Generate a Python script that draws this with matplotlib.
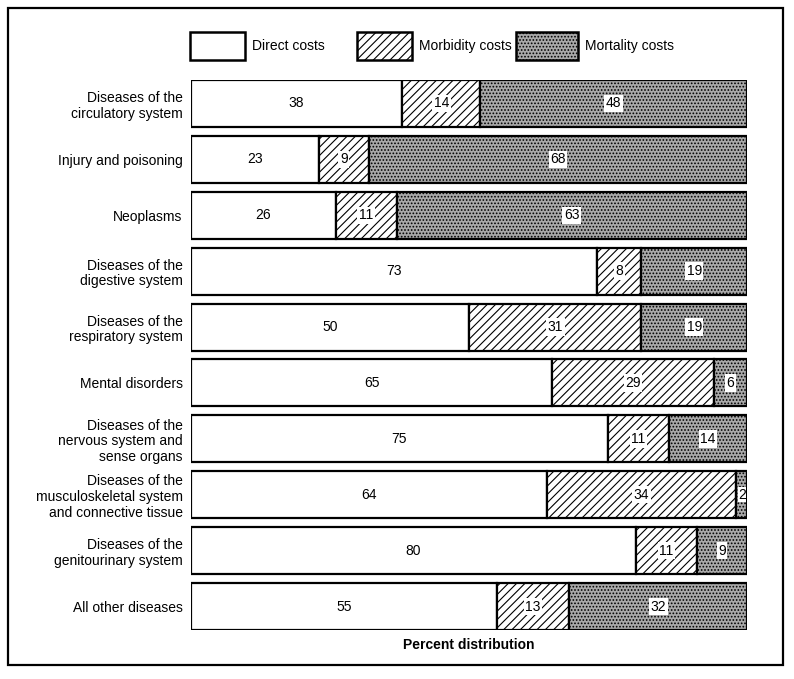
import matplotlib
matplotlib.use('Agg')
import numpy as np
import matplotlib.pyplot as plt
from matplotlib.patches import Rectangle

plt.rcParams['font.family'] = ['Liberation Sans', 'DejaVu Sans']
plt.rcParams['hatch.linewidth'] = 0.8

categories = [
    'Diseases of the\ncirculatory system',
    'Injury and poisoning',
    'Neoplasms',
    'Diseases of the\ndigestive system',
    'Diseases of the\nrespiratory system',
    'Mental disorders',
    'Diseases of the\nnervous system and\nsense organs',
    'Diseases of the\nmusculoskeletal system\nand connective tissue',
    'Diseases of the\ngenitourinary system',
    'All other diseases',
]
direct = [38, 23, 26, 73, 50, 65, 75, 64, 80, 55]
morbidity = [14, 9, 11, 8, 31, 29, 11, 34, 11, 13]
mortality = [48, 68, 63, 19, 19, 6, 14, 2, 9, 32]
series_names = ['Direct costs', 'Morbidity costs', 'Mortality costs']

fig = plt.figure(figsize=(7.94, 6.79), dpi=100)
ax = fig.add_axes([191 / 794, 1 - 630 / 679, 556 / 794, 550 / 679])

styles = [
    dict(facecolor='white', hatch=None),
    dict(facecolor='white', hatch='////'),
    dict(facecolor='#a9a9a9', hatch='.....'),
]

y = np.arange(len(categories))
h = 0.84
left = np.zeros(len(categories))
for vals, st in zip([direct, morbidity, mortality], styles):
    vals = np.array(vals, dtype=float)
    ax.barh(y, vals, left=left, height=h, color=st['facecolor'],
            hatch=st['hatch'], edgecolor='black', linewidth=1.6)
    for yi, l, v in zip(y, left, vals):
        cx = l + v / 2
        if v <= 3:
            # tiny segment: squeeze the label against the right edge
            ax.text(l + v - 0.2, yi, '%d' % v, ha='right', va='center',
                    fontsize=10, bbox=dict(facecolor='white', edgecolor='none', pad=0.3))
        elif st['hatch'] is None:
            ax.text(cx, yi, '%d' % v, ha='center', va='center', fontsize=10)
        else:
            ax.text(cx, yi, '%d' % v, ha='center', va='center', fontsize=10,
                    bbox=dict(facecolor='white', edgecolor='none', pad=1.2))
    left += vals

ax.set_xlim(0, 100)
ax.set_ylim(len(categories) - 1 + h / 2, -h / 2)
ax.set_yticks(y)
ax.set_yticklabels(categories, fontsize=10, linespacing=1.15)
ax.tick_params(axis='y', length=0, pad=6)
ax.set_xticks([])
for s in ax.spines.values():
    s.set_visible(False)
ax.set_xlabel('Percent distribution', fontsize=10, fontweight='bold', labelpad=6)

# legend drawn by hand above the bars
legend_boxes = [(190, 245), (357, 412), (516, 578)]
for (x0, x1), st, name in zip(legend_boxes, styles, series_names):
    fig.add_artist(Rectangle((x0 / 794, 1 - 60 / 679), (x1 - x0) / 794, 28 / 679,
                             transform=fig.transFigure, facecolor=st['facecolor'],
                             hatch=st['hatch'], edgecolor='black', linewidth=1.8))
    fig.text((x1 + 7) / 794, 1 - 46 / 679, name, ha='left', va='center', fontsize=10)

# outer frame
fig.add_artist(Rectangle((8 / 794, 1 - 665 / 679), 775 / 794, 657 / 679,
                         transform=fig.transFigure, fill=False,
                         edgecolor='black', linewidth=1.6))

fig.savefig('out.png', dpi=100)
